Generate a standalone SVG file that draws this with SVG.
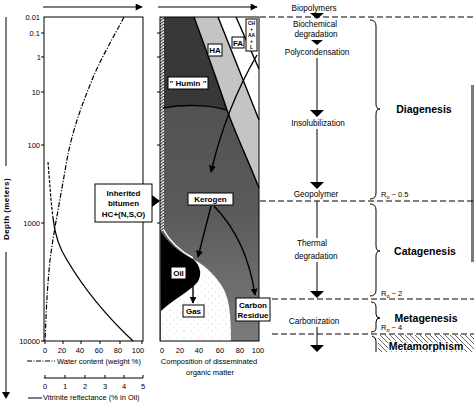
<svg xmlns="http://www.w3.org/2000/svg" width="474" height="403" viewBox="0 0 474 403">
<defs>
<style>
text{font-family:"Liberation Sans","DejaVu Sans",sans-serif;fill:#000}
.ax{font-size:7.5px}
.lbl{font-size:8.2px;text-anchor:middle}
.b{font-weight:bold}
.stage{font-size:10.5px;font-weight:bold;text-anchor:middle}
.box{fill:#fff;stroke:#000;stroke-width:1}
.ln{fill:none;stroke:#000;stroke-width:1}
.bl{fill:none;stroke:#000;stroke-width:1.4}
.dash{fill:none;stroke:#000;stroke-width:1;stroke-dasharray:6,3}
.mid{text-anchor:middle}
.end{text-anchor:end}
.tri{fill:#000}
.ro{font-size:7.5px}
.nl{font-size:8px;font-weight:bold;text-anchor:middle}
.ch{font-size:5px;font-weight:bold;text-anchor:middle}
</style>
<marker id="ah" viewBox="0 0 10 10" refX="9" refY="5" markerWidth="7" markerHeight="7" markerUnits="userSpaceOnUse" orient="auto"><path d="M0,0L10,5L0,10z" fill="#000"/></marker>
<marker id="ax" viewBox="0 0 10 10" refX="9" refY="5" markerWidth="10" markerHeight="7" markerUnits="userSpaceOnUse" orient="auto"><path d="M0,0L10,5L0,10z" fill="#000"/></marker>
<linearGradient id="kg" x1="0" y1="0" x2="0" y2="1"><stop offset="0" stop-color="#4c4c4c"/><stop offset="0.6" stop-color="#5a5a5a"/><stop offset="1" stop-color="#7c7c7c"/></linearGradient>
<pattern id="dots" width="7" height="7" patternUnits="userSpaceOnUse"><rect width="7" height="7" fill="#fff"/><circle cx="2" cy="2" r="0.45" fill="#888"/><circle cx="5.5" cy="5" r="0.4" fill="#aaa"/></pattern>
<pattern id="zig" width="4" height="3" patternUnits="userSpaceOnUse"><rect width="4" height="3" fill="#ddd"/><path d="M0,3L4,0" stroke="#000" stroke-width="0.8"/></pattern>
<pattern id="hatch" width="5" height="5" patternUnits="userSpaceOnUse"><path d="M0,0L5,5M-1,4L1,6M4,-1L6,1" stroke="#000" stroke-width="0.6"/></pattern>
</defs>
<rect width="474" height="403" fill="#fff"/>
<rect x="471" y="85" width="3" height="177" fill="#7a7a7a"/>

<!-- depth axis -->
<g id="depth-axis">
<line class="ln" x1="6" y1="17" x2="6" y2="166"/>
<line class="ln" x1="6" y1="252" x2="6" y2="392"/>
<path class="tri" d="M2,392L10,392L6,399z"/>
<text x="9" y="209" class="b mid" font-size="8" letter-spacing="0.4" transform="rotate(-90 9 209)">Depth (meters)</text>
<text class="ax end" x="40" y="20">0.01</text>
<text class="ax end" x="40" y="36">0.1</text>
<text class="ax end" x="41" y="60">1</text>
<text class="ax end" x="40" y="95">10</text>
<text class="ax end" x="40" y="148">100</text>
<text class="ax end" x="40" y="226">1000</text>
<text class="ax end" x="40" y="344">10000</text>
</g>

<!-- left panel -->
<g id="left-panel">
<line class="ln" x1="43" y1="7" x2="142" y2="7" marker-end="url(#ax)"/>
<rect x="44" y="17" width="99" height="324" fill="none" stroke="#000" stroke-width="1"/>
<path class="ln" d="M41,33H44M41,57H44M41,92H44M41,145H44M41,223H44M41,341H44"/>
<path class="ln" d="M45,341V344M63,341V344M81,341V344M100,341V344M120,341V344M142,341V344"/>
<path fill="none" stroke="#000" stroke-width="1.2" stroke-dasharray="5,1.6,1.2,1.6" d="M124,17C112,40 100,60 92,80C82,105 72,130 66,165C60,200 54,230 50,260C47,290 46,315 45,341"/>
<path fill="none" stroke="#000" stroke-width="1.2" stroke-dasharray="3,1.5" d="M48,162L51,200L53,218"/>
<path fill="none" stroke="#000" stroke-width="1.3" d="M53,218C55,236 59,248 67,260C80,282 102,312 133,341"/>
<text class="ax mid" x="45" y="353">0</text>
<text class="ax mid" x="62" y="353">20</text>
<text class="ax mid" x="80" y="353">40</text>
<text class="ax mid" x="99" y="353">60</text>
<text class="ax mid" x="118" y="353">80</text>
<text class="ax mid" x="138" y="353">100</text>
<line x1="27" y1="361" x2="55" y2="361" stroke="#000" stroke-width="1" stroke-dasharray="5,1.5,1,1.5"/>
<text class="ax" x="57" y="364">Water content (weight %)</text>
<line class="ln" x1="44" y1="378" x2="143" y2="378"/>
<path class="ln" d="M45,375V378M65,375V378M85,375V378M105,375V378M124,375V378M143,375V378"/>
<text class="ax mid" x="45" y="389">0</text>
<text class="ax mid" x="65" y="389">1</text>
<text class="ax mid" x="85" y="389">2</text>
<text class="ax mid" x="105" y="389">3</text>
<text class="ax mid" x="124" y="389">4</text>
<text class="ax mid" x="143" y="389">5</text>
<line class="ln" x1="28" y1="398" x2="42" y2="398"/>
<text class="ax" x="43" y="400">Vitrinite reflectance (% in Oil)</text>
</g>

<!-- middle panel -->
<g id="middle-panel">
<line class="ln" x1="158" y1="7" x2="257" y2="7" marker-end="url(#ax)"/>
<rect x="160" y="17" width="99" height="324" fill="url(#kg)"/>
<path fill="#383838" d="M160,17L194,17C205,47 216,77 227,110C210,105 188,104 160,108Z"/>
<path fill="#c4c4c4" d="M194,17C205,47 216,77 227,110C236,135 248,160 259,188L259,120L218,17Z"/>
<path fill="#fff" d="M218,17L259,17L259,120Z"/>
<path fill="#000" d="M161,232C170,245 182,254 193,259C201,265 203,277 196,284C188,292 173,300 161,311Z"/>
<path fill="url(#dots)" d="M161,311C173,300 188,292 196,284C203,277 201,265 193,259C206,266 216,276 223,288C229,299 231,312 231,341L161,341Z"/>
<path fill="none" stroke="#fff" stroke-width="1.5" d="M163,229C170,242 182,252 193,258"/>
<rect x="160" y="17" width="4" height="214" fill="url(#zig)"/>
<path class="bl" d="M194,17C205,47 216,77 227,110C236,135 248,160 259,188"/>
<path class="bl" d="M218,17L259,120"/>
<path class="bl" d="M236,17L259,69"/>
<path class="bl" d="M163,108C185,104 210,105 227,110"/>
<rect x="160" y="17" width="99" height="324" fill="none" stroke="#000" stroke-width="1"/>
<path class="ln" d="M157,33H160M157,57H160M157,92H160M157,145H160M157,223H160"/>
<text class="ax mid" x="162" y="353">0</text>
<text class="ax mid" x="180" y="353">20</text>
<text class="ax mid" x="199" y="353">40</text>
<text class="ax mid" x="220" y="353">60</text>
<text class="ax mid" x="240" y="353">80</text>
<text class="ax mid" x="258" y="353">100</text>
<text class="ax mid" x="209" y="364">Composition of disseminated</text>
<text class="ax mid" x="210" y="375">organic matter</text>
</g>

<!-- connectors -->
<g id="connectors">
<path class="bl" d="M257,55Q226,108 211,172" marker-end="url(#ah)"/>
<path class="bl" d="M211,206L198,257" marker-end="url(#ah)"/>
<path class="bl" d="M214,206Q247,240 255,295" marker-end="url(#ah)"/>
<path class="bl" d="M193,284L193,303" marker-end="url(#ah)"/>
</g>

<!-- nodes -->
<g id="node-ha"><rect class="box" x="208" y="44" width="14" height="12"/><text class="nl" x="215" y="53">HA</text></g>
<g id="node-fa"><rect class="box" x="232" y="37" width="12" height="11"/><text class="nl" x="238" y="45.5">FA</text></g>
<g id="node-ch"><rect class="box" x="246" y="19" width="11" height="32"/>
<text class="ch" x="251.5" y="24.5">CH</text>
<text class="ch" x="251.5" y="30.7">+</text>
<text class="ch" x="251.5" y="36.9">AA</text>
<text class="ch" x="251.5" y="43.1">+</text>
<text class="ch" x="251.5" y="49.3">L</text></g>
<g id="node-humin"><rect class="box" x="168" y="77" width="40" height="12"/><text class="nl" x="188" y="86">" Humin "</text></g>
<g id="node-kerogen"><rect class="box" x="188" y="193" width="45" height="12"/><text class="nl" x="210.5" y="202">Kerogen</text></g>
<g id="node-oil"><rect class="box" x="171" y="267" width="15" height="12"/><text class="nl" x="178.5" y="276">Oil</text></g>
<g id="node-gas"><rect class="box" x="183" y="305" width="21" height="12"/><text class="nl" x="193.5" y="314">Gas</text></g>
<g id="node-carbon"><rect class="box" x="236" y="298" width="34" height="23"/><text class="nl" x="253" y="307.5">Carbon</text><text class="nl" x="253" y="318">Residue</text></g>
<g id="node-bitumen"><rect class="box" x="95" y="184" width="57" height="38"/>
<text class="nl" x="123.5" y="196">Inherited</text>
<text class="nl" x="123.5" y="206">bitumen</text>
<text class="nl" x="123.5" y="217">HC+(N,S,O)</text>
<path class="tri" d="M152,195L160,201L152,207Z"/></g>

<!-- process column -->
<g id="process">
<line class="dash" x1="260" y1="17" x2="474" y2="17"/>
<line class="dash" x1="260" y1="201" x2="474" y2="201"/>
<line class="dash" x1="272" y1="299" x2="474" y2="299"/>
<line class="dash" x1="272" y1="334" x2="474" y2="334"/>
<text class="lbl" x="314" y="11">Biopolymers</text>
<path class="tri" d="M310,13L324,13L317,19Z"/>
<text class="lbl" x="315" y="27">Biochemical</text>
<text class="lbl" x="316" y="37">degradation</text>
<path class="tri" d="M311,40L323,40L317,45Z"/>
<text class="lbl" x="317" y="55">Polycondensation</text>
<line class="ln" x1="317" y1="58" x2="317" y2="110"/>
<path class="tri" d="M310,110L324,110L317,117Z"/>
<text class="lbl" x="318" y="126">Insolubilization</text>
<line class="ln" x1="317" y1="129" x2="317" y2="182"/>
<path class="tri" d="M310,182L324,182L317,189Z"/>
<text class="lbl" x="316" y="197">Geopolymer</text>
<line class="ln" x1="317" y1="201" x2="317" y2="238"/>
<text class="lbl" x="312" y="246">Thermal</text>
<text class="lbl" x="316" y="259">degradation</text>
<line class="ln" x1="317" y1="262" x2="317" y2="291"/>
<path class="tri" d="M310,291L324,291L317,298Z"/>
<text class="lbl" x="314" y="324">Carbonization</text>
<line class="ln" x1="317" y1="327" x2="317" y2="345"/>
<path class="tri" d="M310,345L324,345L317,352Z"/>
</g>

<!-- stages -->
<g id="stages">
<path class="ln" stroke-width="1.3" d="M370,20Q376,20 376,26L376,104Q376,109 380,109Q376,109 376,114L376,193Q376,199 370,199"/>
<path class="ln" stroke-width="1.3" d="M370,204Q376,204 376,210L376,246Q376,251 380,251Q376,251 376,256L376,290Q376,296 370,296"/>
<path class="ln" stroke-width="1.3" d="M371,302Q376,302 376,307L376,314Q376,318 380,318Q376,318 376,322L376,328Q376,332 371,332"/>
<rect x="378" y="335" width="96" height="17" fill="url(#hatch)"/>
<path class="ln" stroke-width="1.3" d="M372,336Q376,337 376,341L376,352"/>
<text class="stage" x="424" y="113">Diagenesis</text>
<text class="stage" x="425" y="255">Catagenesis</text>
<text class="stage" x="426" y="322">Metagenesis</text>
<text class="stage" x="426" y="350" font-size="9.5" stroke="#fff" stroke-width="2.5" paint-order="stroke">Metamorphism</text>
<text class="ro" x="381" y="197">R<tspan font-size="5.5" dy="1.5">o</tspan><tspan dy="-1.5"> ~ 0.5</tspan></text>
<text class="ro" x="381" y="296">R<tspan font-size="5.5" dy="1.5">o</tspan><tspan dy="-1.5"> ~ 2</tspan></text>
<text class="ro" x="381" y="330">R<tspan font-size="5.5" dy="1.5">o</tspan><tspan dy="-1.5"> ~ 4</tspan></text>
</g>
</svg>
